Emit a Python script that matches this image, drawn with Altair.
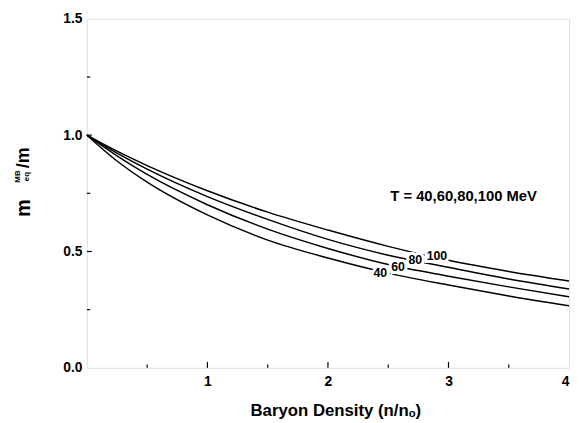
import altair as alt
import pandas as pd

# Data
density = [0, 0.25, 0.5, 1, 1.5, 2, 2.5, 3, 3.5, 4]
t100 = [1.0, 0.931, 0.869, 0.761, 0.669, 0.592, 0.522, 0.462, 0.414, 0.373]
t80 = [1.0, 0.923, 0.854, 0.736, 0.638, 0.552, 0.484, 0.432, 0.382, 0.339]
t60 = [1.0, 0.911, 0.831, 0.701, 0.596, 0.513, 0.444, 0.394, 0.348, 0.305]
t40 = [1.0, 0.889, 0.798, 0.657, 0.549, 0.472, 0.407, 0.356, 0.309, 0.267]
series_names = ["100", "80", "60", "40"]

label_text = ["100", "80", "60", "40"]
label_x = [2.904, 2.724, 2.581, 2.434]
label_y = [0.481, 0.462, 0.434, 0.409]

x_tick_labels = [1, 2, 3, 4]
y_tick_labels = [0.0, 0.5, 1.0, 1.5]
x_major_ticks = [1, 2, 3]
x_minor_ticks = [0.5, 1.5, 2.5, 3.5]
y_major_ticks = [0.5, 1.0]
y_minor_ticks = [0.25, 0.75, 1.25]

annot_text = ["T = 40,60,80,100 MeV"]
annot_x = [3.125]
annot_y = [0.737]

FONT = "Liberation Sans"
W, H = 489, 354

rows = []
for name, vals in zip(series_names, [t100, t80, t60, t40]):
    for x, v in zip(density, vals):
        rows.append({"x": x, "y": v, "T": name})
df = pd.DataFrame(rows)
labels = pd.DataFrame({"t": label_text, "x": label_x, "y": label_y})
ann = pd.DataFrame({"t": annot_text, "x": annot_x, "y": annot_y})

xscale = alt.Scale(domain=[0, 4], nice=False, zero=False)
yscale = alt.Scale(domain=[0, 1.5], nice=False, zero=False)

xaxis = alt.Axis(values=x_tick_labels, format="d", ticks=False, domain=False, grid=False,
                 labelFont=FONT, labelFontWeight="bold", labelFontSize=14, labelColor="black",
                 labelPadding=7, labelFlush=True,
                 title="Baryon Density (n/nₒ)", titleFont=FONT, titleFontWeight="bold",
                 titleFontSize=17, titleColor="black", titleX=252, titleY=43,
                 titleBaseline="middle", titleAnchor="middle", titleAlign="center")
yaxis = alt.Axis(values=y_tick_labels, format=".1f", ticks=False, domain=False, grid=False,
                 labelFont=FONT, labelFontWeight="bold", labelFontSize=14, labelColor="black",
                 labelPadding=5, title=None)

lines = alt.Chart(df).mark_line(color="black", strokeWidth=1.5, interpolate="monotone").encode(
    x=alt.X("x:Q", scale=xscale, axis=xaxis),
    y=alt.Y("y:Q", scale=yscale, axis=yaxis),
    detail="T:N",
)

halo = alt.Chart(labels).mark_text(font=FONT, fontWeight="bold", fontSize=12.5,
                                   stroke="white", strokeWidth=6, fill="white").encode(
    x=alt.X("x:Q", scale=xscale), y=alt.Y("y:Q", scale=yscale), text="t:N")
ltxt = alt.Chart(labels).mark_text(font=FONT, fontWeight="bold", fontSize=12.5, color="black").encode(
    x=alt.X("x:Q", scale=xscale), y=alt.Y("y:Q", scale=yscale), text="t:N")

annot = alt.Chart(ann).mark_text(font=FONT, fontWeight="bold", fontSize=15, color="black").encode(
    x=alt.X("x:Q", scale=xscale), y=alt.Y("y:Q", scale=yscale), text="t:N")

def xticks(vals, length):
    return alt.Chart(pd.DataFrame({"x": vals})).mark_rule(color="black", strokeWidth=1.2).encode(
        x=alt.X("x:Q", scale=xscale), y=alt.value(H), y2=alt.value(H - length))

def yticks(vals, length):
    return alt.Chart(pd.DataFrame({"y": vals})).mark_rule(color="black", strokeWidth=1.2).encode(
        y=alt.Y("y:Q", scale=yscale), x=alt.value(0), x2=alt.value(length))

one = pd.DataFrame({"a": [0]})
def ytitle(text, x, y, size):
    return alt.Chart(one).mark_text(font=FONT, fontWeight="bold", fontSize=size, color="black",
                                    angle=270, align="center", baseline="middle").encode(
        x=alt.value(x), y=alt.value(y), text=alt.value(text))

chart = alt.layer(
    lines, halo, ltxt, annot,
    xticks(x_major_ticks, 6), xticks(x_minor_ticks, 3.5),
    yticks(y_major_ticks, 5), yticks(y_minor_ticks, 3.5),
    ytitle("m", -64, 192, 20),
    ytitle("MB", -70, 160, 8),
    ytitle("eq", -61, 160, 8),
    ytitle("/m", -64, 141, 18),
).properties(
    width=W, height=H,
    autosize=alt.AutoSizeParams(type="none"),
    padding={"left": 80, "top": 8, "right": 2, "bottom": 53},
).configure_view(stroke="black", strokeWidth=1.8).configure(background="white")

chart.save("out.html", embed_options={"renderer": "svg", "actions": False})
